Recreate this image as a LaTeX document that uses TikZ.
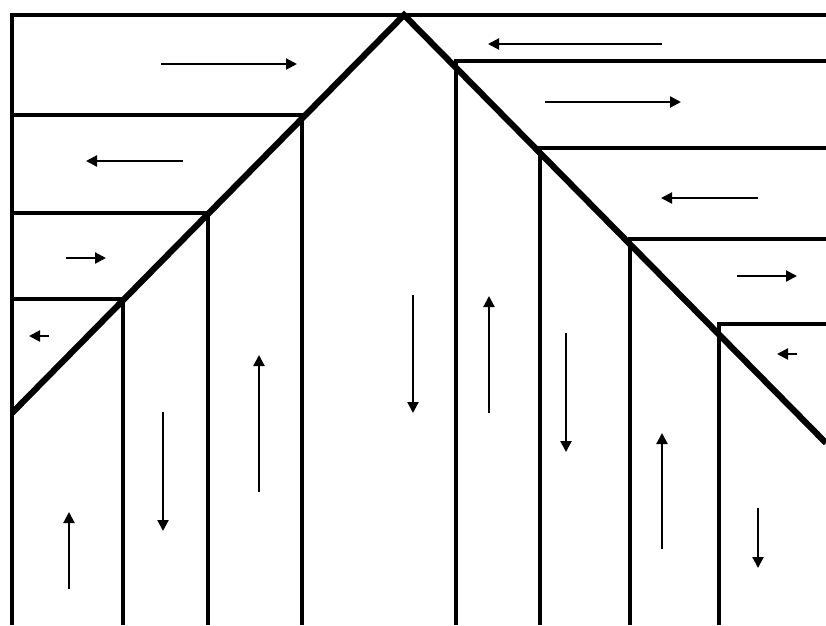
\documentclass[tikz,border=0pt]{standalone}
\usetikzlibrary{arrows.meta}
\begin{document}
\begin{tikzpicture}[x=1pt,y=-1pt,
  wall/.style={line width=4.6pt,line join=miter},
  fault/.style={line width=6.2pt,line join=miter},
  flow/.style={line width=2.2pt,-{Triangle[length=11pt,width=11pt]}}]
\useasboundingbox (0,0) rectangle (826,625);
% frame
\draw[wall] (12,625) -- (12,15) -- (826,15);
% left side layers
\draw[wall] (12,115) -- (302,115) -- (302,625);
\draw[wall] (12,213) -- (208,213) -- (208,625);
\draw[wall] (12,299) -- (123,299) -- (123,625);
% right side layers
\draw[wall] (826,61) -- (456,61) -- (456,625);
\draw[wall] (826,148) -- (540,148) -- (540,625);
\draw[wall] (826,239) -- (630,239) -- (630,625);
\draw[wall] (826,324) -- (719,324) -- (719,625);
% diagonals
\draw[fault] (12,413) -- (404,15) -- (826,443);
% horizontal arrows
\draw[flow] (161,64) -- (297,64);
\draw[flow] (183,161) -- (86,161);
\draw[flow] (66,258) -- (106,258);
\draw[flow] (49,336) -- (29,336);
\draw[flow] (662,44) -- (488,44);
\draw[flow] (545,102) -- (681,102);
\draw[flow] (758,198) -- (661,198);
\draw[flow] (737,276) -- (797,276);
\draw[flow] (797,354) -- (777,354);
% vertical arrows
\draw[flow] (69,589) -- (69,512);
\draw[flow] (163,412) -- (163,531);
\draw[flow] (259,492) -- (259,355);
\draw[flow] (413,295) -- (413,413);
\draw[flow] (489,413) -- (489,296);
\draw[flow] (566,333) -- (566,452);
\draw[flow] (662,549) -- (662,433);
\draw[flow] (758,508) -- (758,568);
\end{tikzpicture}
\end{document}
